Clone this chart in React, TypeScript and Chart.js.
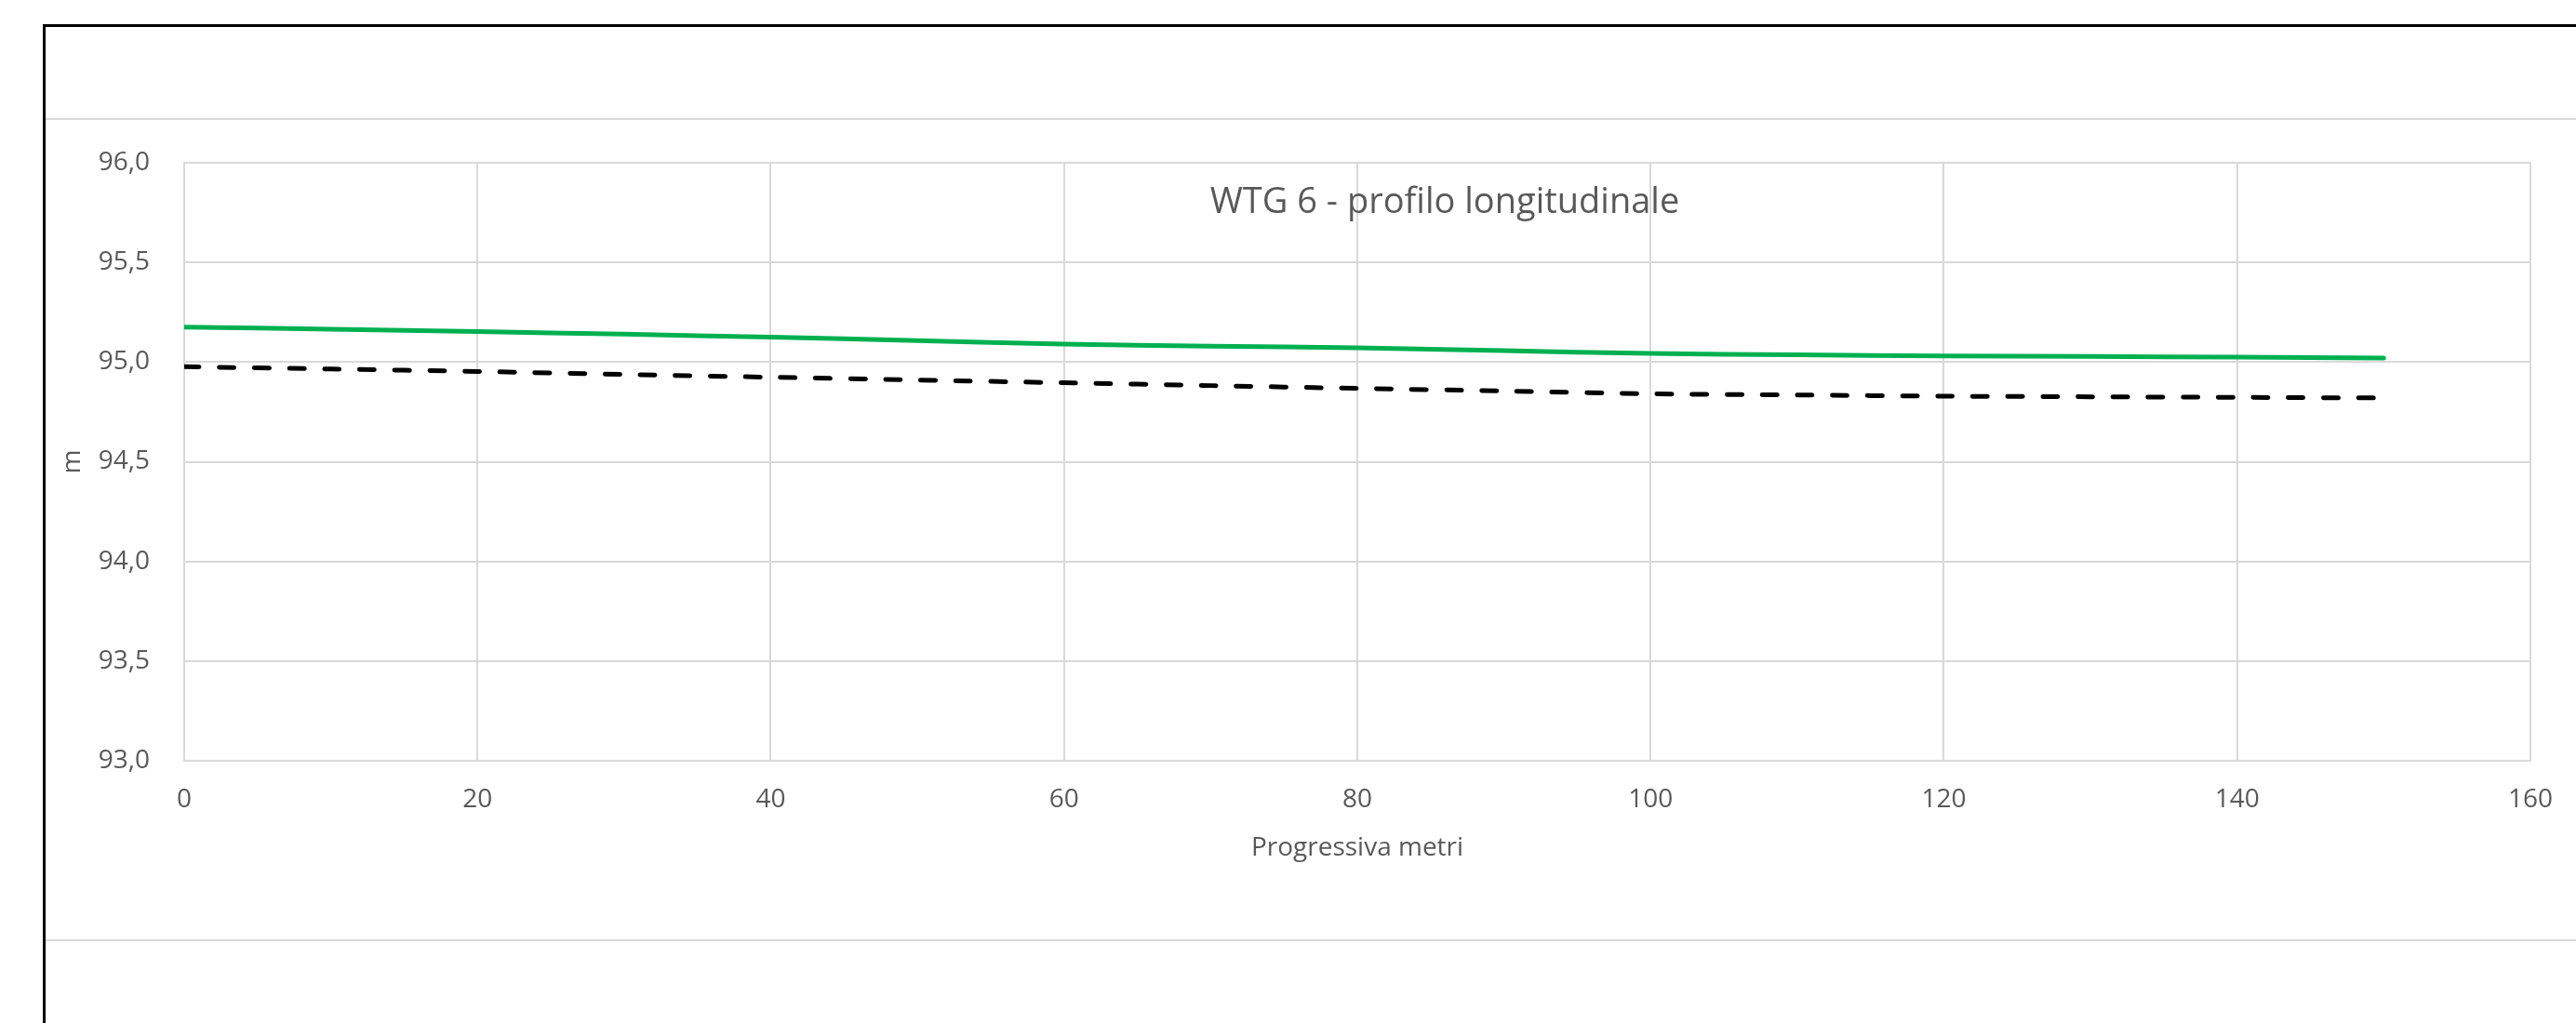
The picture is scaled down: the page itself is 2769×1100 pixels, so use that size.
import React, { useEffect, useRef } from "react";
import { Chart, registerables } from "chart.js";

Chart.register(...registerables);

const chartTitle = "WTG 6 - profilo longitudinale";
const xAxisTitle = "Progressiva metri";
const yAxisTitle = "m";

const progressive = [0, 10, 20, 30, 40, 50, 60, 70, 80, 90, 100, 110, 120, 130, 140, 150];
const terreno = [95.175, 95.165, 95.153, 95.14, 95.125, 95.108, 95.09, 95.08, 95.071, 95.057, 95.043, 95.036, 95.031, 95.028, 95.025, 95.02];
const progetto = [94.977, 94.965, 94.953, 94.938, 94.924, 94.91, 94.896, 94.882, 94.868, 94.855, 94.841, 94.835, 94.829, 94.826, 94.823, 94.82];

const xTicks = [0, 20, 40, 60, 80, 100, 120, 140, 160];
const yTicks = [93.0, 93.5, 94.0, 94.5, 95.0, 95.5, 96.0];

const W = 2769;
const H = 1100;
const FONT = "'Open Sans', 'Noto Sans', sans-serif";
const TEXT = "#595959";
const GRID = "#d9d9d9";

const framePlugin = {
  id: "framePlugin",
  beforeDraw(chart: any) {
    const ctx = chart.ctx;
    ctx.save();
    ctx.fillStyle = "#ffffff";
    ctx.fillRect(0, 0, chart.width, chart.height);
    ctx.strokeStyle = GRID;
    ctx.lineWidth = 2;
    ctx.beginPath();
    ctx.moveTo(48, 128);
    ctx.lineTo(chart.width, 128);
    ctx.moveTo(48, 1011);
    ctx.lineTo(chart.width, 1011);
    ctx.stroke();
    ctx.strokeStyle = "#000000";
    ctx.lineWidth = 3;
    ctx.strokeRect(47.5, 27.5, 3100, 1200);
    ctx.restore();
  },
  afterDraw(chart: any) {
    const ctx = chart.ctx;
    ctx.save();
    ctx.fillStyle = TEXT;
    ctx.font = `38px ${FONT}`;
    ctx.textAlign = "center";
    ctx.textBaseline = "middle";
    ctx.fillText(chartTitle, 1553, 218);
    ctx.restore();
  },
};

export default function App() {
  const ref = useRef<HTMLCanvasElement | null>(null);
  useEffect(() => {
    if (!ref.current) return;
    const chart = new Chart(ref.current, {
      type: "line",
      data: {
        datasets: [
          {
            label: "Terreno",
            data: progressive.map((x, i) => ({ x, y: terreno[i] })),
            borderColor: "#00b050",
            borderWidth: 5,
            pointRadius: 0,
            borderCapStyle: "round",
            tension: 0.3,
          },
          {
            label: "Progetto",
            data: progressive.map((x, i) => ({ x, y: progetto[i] })),
            borderColor: "#000000",
            borderWidth: 5,
            pointRadius: 0,
            borderDash: [16, 21.7],
            borderCapStyle: "round",
            tension: 0.3,
          },
        ],
      },
      plugins: [framePlugin],
      options: {
        responsive: false,
        animation: false,
        devicePixelRatio: 1,
        layout: { padding: { left: 0, top: 175, right: 42, bottom: 0 } },
        plugins: {
          legend: { display: false },
          tooltip: { enabled: false },
          title: { display: false },
        },
        scales: {
          x: {
            type: "linear",
            min: 0,
            max: 160,
            afterBuildTicks: (s: any) => {
              s.ticks = xTicks.map((v) => ({ value: v }));
            },
            afterFit: (s: any) => {
              s.height = 282;
            },
            ticks: {
              color: TEXT,
              font: { family: FONT, size: 28 },
              padding: 25,
              maxRotation: 0,
              autoSkip: false,
              callback: (v: any) => String(v),
            },
            grid: { color: GRID, lineWidth: 2, drawTicks: false },
            border: { color: GRID, width: 2 },
            title: {
              display: true,
              text: xAxisTitle,
              color: TEXT,
              font: { family: FONT, size: 28 },
              padding: { top: 0, bottom: 171 },
            },
          },
          y: {
            type: "linear",
            min: 93,
            max: 96,
            afterBuildTicks: (s: any) => {
              s.ticks = yTicks.map((v) => ({ value: v }));
            },
            afterFit: (s: any) => {
              s.width = 198;
            },
            ticks: {
              color: TEXT,
              font: { family: FONT, size: 28 },
              padding: 37,
              autoSkip: false,
              callback: (v: any) => Number(v).toFixed(1).replace(".", ","),
            },
            grid: { color: GRID, lineWidth: 2, drawTicks: false },
            border: { color: GRID, width: 2 },
            title: {
              display: true,
              text: yAxisTitle,
              color: TEXT,
              font: { family: FONT, size: 28 },
              padding: { top: 61, bottom: 0 },
            },
          },
        },
      },
    } as any);
    return () => chart.destroy();
  }, []);
  return (
    <div style={{ position: "absolute", left: 0, top: 0, width: W, height: H, overflow: "hidden" }}>
      <canvas ref={ref} width={W} height={H} style={{ width: W, height: H, display: "block" }} />
    </div>
  );
}
